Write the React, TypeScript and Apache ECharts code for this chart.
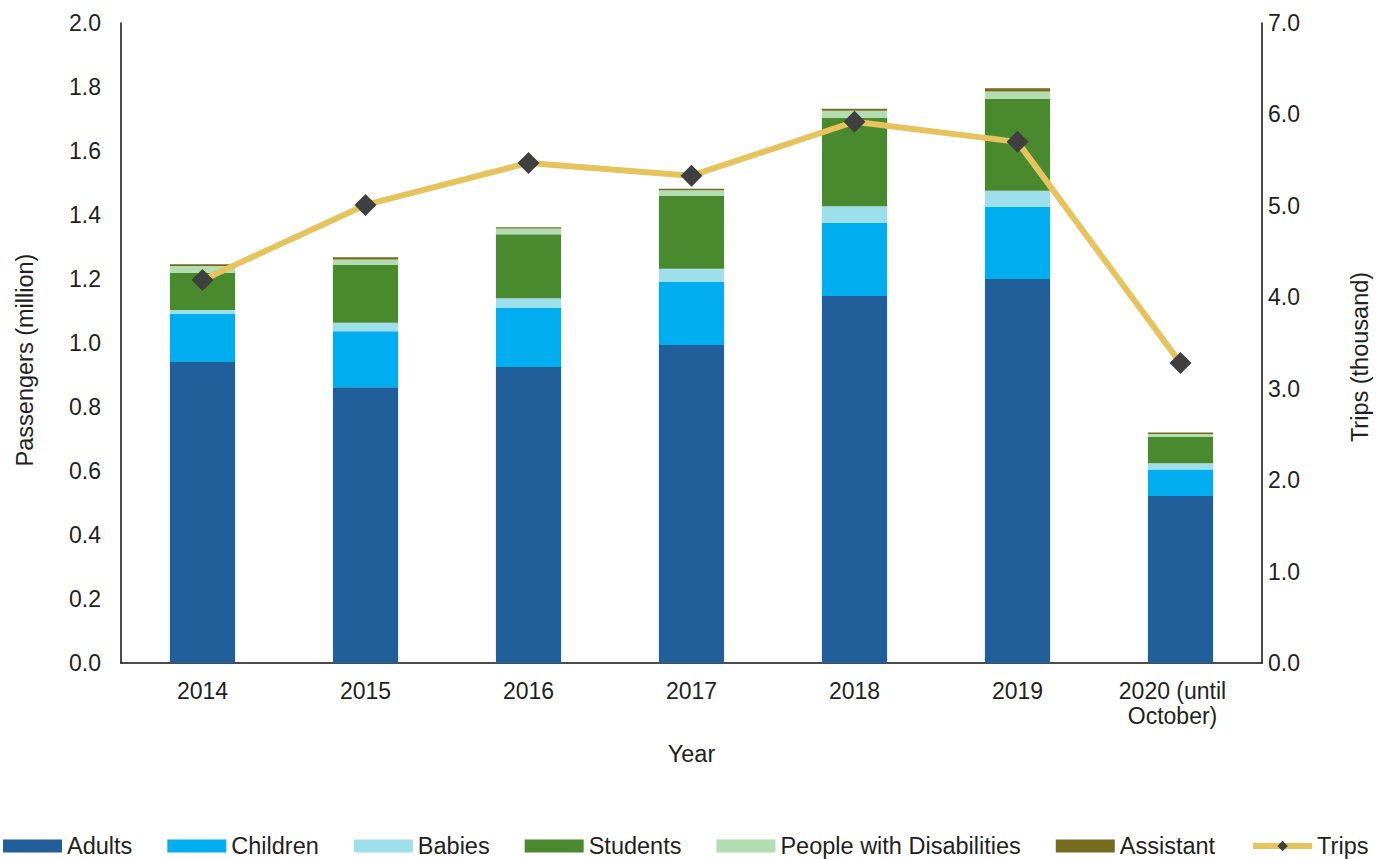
import React, { useEffect, useRef } from "react";
import * as echarts from "echarts";

const years = ["2014", "2015", "2016", "2017", "2018", "2019", "2020 (until\nOctober)"];
const adults = [0.941, 0.862, 0.925, 0.994, 1.147, 1.2, 0.522];
const children = [0.15, 0.175, 0.184, 0.197, 0.228, 0.225, 0.083];
const babies = [0.012, 0.026, 0.031, 0.041, 0.052, 0.051, 0.019];
const students = [0.116, 0.181, 0.2, 0.227, 0.277, 0.287, 0.083];
const disabilities = [0.022, 0.017, 0.018, 0.018, 0.022, 0.023, 0.009];
const assistant = [0.005, 0.007, 0.004, 0.005, 0.006, 0.01, 0.004];
const trips = [4.19, 5.01, 5.47, 5.33, 5.92, 5.7, 3.28];

const FONT = "Liberation Sans, Arial, Helvetica, sans-serif";
const TXT = "#231f20";

export default function App() {
  const ref = useRef<HTMLDivElement>(null);
  useEffect(() => {
    if (!ref.current) return;
    const chart = echarts.init(ref.current, undefined, { renderer: "svg" });
    const barSeries = (name: string, data: number[], color: string) => ({
      name,
      type: "bar",
      stack: "p",
      data,
      barWidth: "40%",
      itemStyle: { color },
      yAxisIndex: 0,
    });
    const categoryData = years.map((y, i) =>
      i === years.length - 1 ? { value: y, textStyle: { padding: [0, 16, 0, 0] } } : y
    );
    chart.setOption({
      animation: false,
      textStyle: { fontFamily: FONT, color: TXT },
      grid: { left: 121, right: 123, top: 23, bottom: 196 },
      legend: {
        left: 3,
        top: 834,
        padding: 0,
        itemWidth: 59,
        itemHeight: 13,
        itemGap: 35,
        textStyle: { fontSize: 23.5, color: TXT, fontFamily: FONT, padding: [0, 0, 0, 0] },
        data: [
          { name: "Adults", icon: "rect" },
          { name: "Children", icon: "rect" },
          { name: "Babies", icon: "rect" },
          { name: "Students", icon: "rect" },
          { name: "People with Disabilities", icon: "rect" },
          { name: "Assistant", icon: "rect" },
          { name: "Trips", lineStyle: { width: 6, color: "#E6C35C" } },
        ],
      },
      graphic: [
        {
          type: "text",
          x: 25,
          y: 360,
          rotation: Math.PI / 2,
          style: { text: "Passengers (million)", fontSize: 23.5, fontFamily: FONT, fill: TXT, align: "center", verticalAlign: "middle" },
        },
        {
          type: "text",
          x: 1360,
          y: 357,
          rotation: Math.PI / 2,
          style: { text: "Trips (thousand)", fontSize: 23.5, fontFamily: FONT, fill: TXT, align: "center", verticalAlign: "middle" },
        },
      ],
      xAxis: {
        type: "category",
        data: categoryData,
        name: "Year",
        nameLocation: "middle",
        nameGap: 79,
        nameTextStyle: { fontSize: 23.5, color: TXT },
        axisLine: { lineStyle: { color: "#111", width: 1.5 } },
        axisTick: { show: false },
        axisLabel: { fontSize: 23, color: TXT, margin: 15, lineHeight: 25 },
      },
      yAxis: [
        {
          type: "value",
          min: 0,
          max: 2,
          interval: 0.2,
          axisLine: { show: true, lineStyle: { color: "#111", width: 1.5 } },
          axisTick: { show: false },
          splitLine: { show: false },
          axisLabel: { fontSize: 23, color: TXT, margin: 20, formatter: (v: number) => v.toFixed(1) },
        },
        {
          type: "value",
          min: 0,
          max: 7,
          interval: 1,
          axisLine: { show: true, lineStyle: { color: "#111", width: 1.5 } },
          axisTick: { show: false },
          splitLine: { show: false },
          axisLabel: { fontSize: 23, color: TXT, margin: 6, formatter: (v: number) => v.toFixed(1) },
        },
      ],
      series: [
        barSeries("Adults", adults, "#215F9A"),
        barSeries("Children", children, "#00ADEF"),
        barSeries("Babies", babies, "#9DE0EC"),
        barSeries("Students", students, "#4A8A2E"),
        barSeries("People with Disabilities", disabilities, "#B1DDB0"),
        barSeries("Assistant", assistant, "#746B1C"),
        {
          name: "Trips",
          type: "line",
          yAxisIndex: 1,
          data: trips,
          symbol: "diamond",
          symbolSize: 22,
          lineStyle: { color: "#E6C35C", width: 6 },
          itemStyle: { color: "#404040" },
          z: 10,
        },
      ],
    });
    return () => chart.dispose();
  }, []);
  return <div ref={ref} style={{ width: 1385, height: 859, position: "absolute", left: 0, top: 0 }} />;
}
